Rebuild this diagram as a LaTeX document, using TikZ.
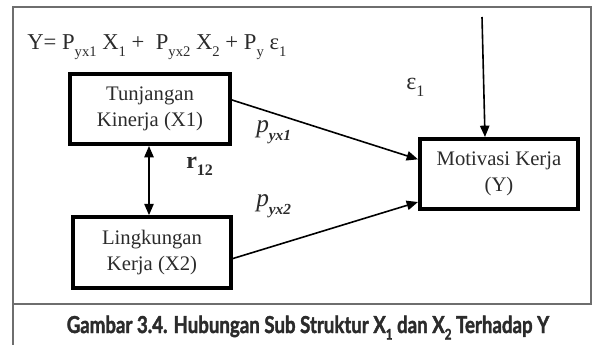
\documentclass[tikz,border=0pt]{standalone}
\usepackage{fontspec}
\setmainfont{Liberation Serif}
\newfontfamily\capfont[FakeStretch=0.8,FakeBold=1.6]{Lato Bold}
\usetikzlibrary{arrows.meta}
\definecolor{inkc}{HTML}{2B2B2B}
\definecolor{framec}{HTML}{6E6E6E}
\newcommand\lowsub[2]{\raisebox{-0.28em}{\fontsize{#1}{#1}\selectfont #2}}
\begin{document}
\begin{tikzpicture}[x=0.75pt,y=-0.75pt,
  varbox/.style={draw=black,line width=3pt,inner sep=0pt,align=center,
    text=inkc,font=\fontsize{15.5}{19}\selectfont},
  arr/.style={line width=1.2pt,-{Triangle[length=8.5pt,width=7pt]}},
  biarr/.style={line width=1.2pt,{Triangle[length=8.5pt,width=7pt]}-{Triangle[length=8.5pt,width=7pt]}},
  framel/.style={draw=framec,line width=1.2pt}]
\useasboundingbox (0,0) rectangle (592,345);

% frame and caption rule
\draw[framel] (13,345) -- (13,7) -- (591,7) -- (591,304);
\draw[framel] (13,304) -- (592,304);

% equation
\node[anchor=base west,inner sep=0pt,text=inkc,font=\fontsize{17}{19}\selectfont] (eq) at (27,50)
  {Y= P\lowsub{11}{yx1} X\lowsub{11}{1} +\ \ P\lowsub{11}{yx2} X\lowsub{11}{2} + P\lowsub{11}{y} ε\lowsub{11}{1}};

% variables
\node[varbox,minimum width=120pt,minimum height=52.5pt] (x1) at (150,109)
  {Tunjangan\\Kinerja (X1)};
\node[varbox,minimum width=118.5pt,minimum height=53pt] (x2) at (152,252.5)
  {Lingkungan\\Kerja (X2)};
\node[varbox,minimum width=118.5pt,minimum height=52.5pt] (y) at (499,174)
  {Motivasi Kerja\\(Y)};

% paths
\coordinate (etop) at (482,17);
\draw[arr] ([yshift=6.75pt]x1.east) -- ([yshift=11pt]y.west);
\draw[arr] ([yshift=-4.5pt]x2.east) -- ([yshift=-21pt]y.west);
\draw[arr] (etop) -- ([xshift=-10.5pt]y.north);
\draw[biarr] ([xshift=-0.75pt]x1.south) -- ([xshift=-0.75pt]x1.south |- x2.north);

% labels
\node[anchor=base west,inner sep=0pt,text=inkc] (p1) at (256,133)
  {\fontsize{19}{19}\selectfont\itshape p\lowsub{11.5}{\bfseries\itshape yx1}};
\node[anchor=base west,inner sep=0pt,text=inkc] (p2) at (256,207)
  {\fontsize{19}{19}\selectfont\itshape p\lowsub{11.5}{\bfseries\itshape yx2}};
\node[anchor=base west,inner sep=0pt,text=inkc] (r12) at (186,169)
  {\fontsize{18}{18}\selectfont\bfseries r\lowsub{12}{\bfseries 12}};
\node[anchor=base west,inner sep=0pt,text=inkc] (eps) at (406,90)
  {\fontsize{18}{18}\selectfont ε\lowsub{12}{1}};

% caption
\node[anchor=base,inner sep=0pt,text=inkc] (cap) at (308,333)
  {\capfont\fontsize{17.5}{18}\selectfont Gambar 3.4. Hubungan Sub Struktur X\lowsub{11}{1} dan X\lowsub{11}{2} Terhadap Y};
\end{tikzpicture}
\end{document}
